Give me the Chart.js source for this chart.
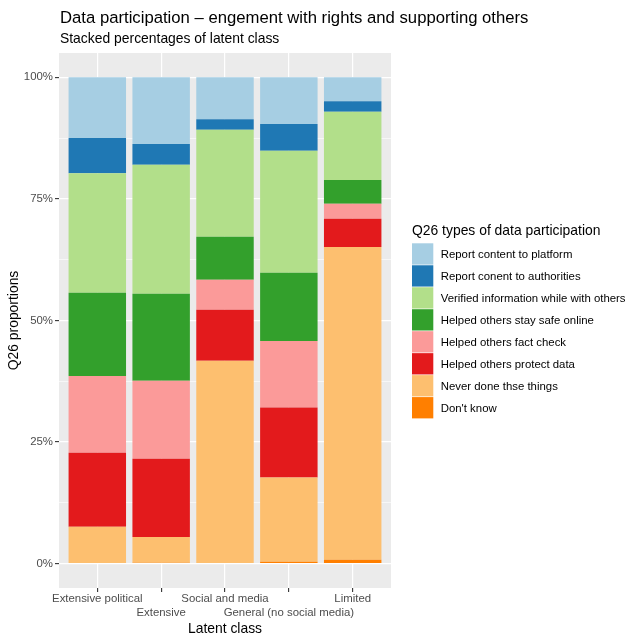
<!DOCTYPE html>
<html>
<head>
<meta charset="utf-8">
<script src="https://cdn.jsdelivr.net/npm/chart.js@4.4.1/dist/chart.umd.min.js"></script>
<style>
  html, body { margin: 0; padding: 0; background: #ffffff; }
  canvas { display: block; }
</style>
</head>
<body>
<canvas id="chart" width="627" height="637"></canvas>
<script>
// Latent classes along the x axis
const classes = ['Extensive political', 'Extensive', 'Social and media', 'General (no social media)', 'Limited'];

// Share of each participation type within a class (%), listed bottom to top of the stack
const dontKnow      = [0.0, 0.2, 0.0, 0.4, 0.8];
const neverDone     = [7.6, 5.3, 41.7, 17.3, 64.3];
const protectData   = [15.2, 16.1, 10.5, 14.4, 5.8];
const factCheck     = [15.8, 16.0, 6.2, 13.7, 3.1];
const staySafe      = [17.1, 17.9, 8.8, 14.0, 4.9];
const verifiedInfo  = [24.6, 26.5, 22.0, 25.1, 14.0];
const toAuthorities = [7.2, 4.3, 2.2, 5.5, 2.2];
const toPlatform    = [12.5, 13.7, 8.6, 9.6, 4.9];

const seriesNames = [
  "Don't know",
  'Never done thse things',
  'Helped others protect data',
  'Helped others fact check',
  'Helped others stay safe online',
  'Verified information while with others',
  'Report conent to authorities',
  'Report content to platform'
];
const seriesValues = [dontKnow, neverDone, protectData, factCheck, staySafe, verifiedInfo, toAuthorities, toPlatform];
const seriesColors = ['#FF7F00', '#FDBF6F', '#E31A1C', '#FB9A99', '#33A02C', '#B2DF8A', '#1F78B4', '#A6CEE3'];

// Labelled y ticks (%)
const yTicks = [0, 25, 50, 75, 100];

const FONT = "'Liberation Sans', Arial, Helvetica, sans-serif";
const GREY_TEXT = '#4D4D4D';

// Major lines at the labelled ticks, minor lines halfway between them
const yGrid = [];
yTicks.forEach((v, i) => {
  yGrid.push(v);
  if (i < yTicks.length - 1) yGrid.push((v + yTicks[i + 1]) / 2);
});
yGrid.sort((a, b) => a - b);

const datasets = seriesNames.map((name, k) => ({
  label: name,
  data: seriesValues[k].map((v, i) => ({ x: i + 1, y: v })),
  backgroundColor: seriesColors[k],
  borderWidth: 0,
  barPercentage: 0.9,
  categoryPercentage: 1.0
}));

// Grey panel behind the plotting area
const panelBackground = {
  id: 'panelBackground',
  beforeDraw(chart) {
    const { ctx, chartArea: a } = chart;
    ctx.save();
    ctx.fillStyle = '#EBEBEB';
    ctx.fillRect(a.left, a.top, a.right - a.left, a.bottom - a.top);
    ctx.restore();
  }
};

// Titles, axis titles and the legend
const annotations = {
  id: 'annotations',
  afterDraw(chart) {
    const { ctx, chartArea: a } = chart;
    ctx.save();
    ctx.fillStyle = '#000000';
    ctx.textAlign = 'left';
    ctx.textBaseline = 'alphabetic';
    ctx.font = `16.7px ${FONT}`;
    ctx.fillText('Data participation \u2013 engement with rights and supporting others', 60, 22.7);
    ctx.font = `13.9px ${FONT}`;
    ctx.fillText('Stacked percentages of latent class', 60, 42.7);

    // x axis title
    ctx.textAlign = 'center';
    ctx.fillText('Latent class', (a.left + a.right) / 2, 632.7);

    // y axis title
    ctx.save();
    ctx.translate(17.5, (a.top + a.bottom) / 2);
    ctx.rotate(-Math.PI / 2);
    ctx.fillText('Q26 proportions', 0, 0);
    ctx.restore();

    // legend
    ctx.textAlign = 'left';
    ctx.fillText('Q26 types of data participation', 412, 235);
    const keyX = 412, keyY = 243.3, step = 21.97, keySize = 21.3;
    ctx.font = `11.4px ${FONT}`;
    const items = chart.data.datasets.slice().reverse();
    items.forEach((ds, i) => {
      const y = keyY + i * step;
      ctx.fillStyle = ds.backgroundColor;
      ctx.fillRect(keyX, y, keySize, keySize);
      ctx.fillStyle = '#000000';
      ctx.fillText(ds.label, 440.7, y + keySize / 2 + 4);
    });
    ctx.restore();
  }
};

new Chart(document.getElementById('chart'), {
  type: 'bar',
  data: { datasets },
  options: {
    responsive: false,
    devicePixelRatio: 1,
    animation: false,
    events: [],
    layout: { padding: { top: 53, right: 236, left: 0, bottom: 0 } },
    plugins: {
      legend: { display: false },
      title: { display: false },
      tooltip: { enabled: false }
    },
    scales: {
      x: {
        type: 'linear',
        min: 0.4,
        max: 5.6,
        offset: false,
        stacked: true,
        afterBuildTicks(scale) {
          scale.ticks = classes.map((c, i) => ({ value: i + 1 }));
        },
        afterFit(scale) { scale.height = 49; },
        border: { display: false },
        grid: {
          offset: false,
          color: '#FFFFFF',
          lineWidth: 1.2,
          tickLength: 4,
          tickColor: '#333333',
          tickWidth: 1.1
        },
        ticks: {
          autoSkip: false,
          maxRotation: 0,
          minRotation: 0,
          padding: 0,
          color: GREY_TEXT,
          font: { family: FONT, size: 11.4, lineHeight: 1.228 },
          callback(value) {
            const i = Math.round(value) - 1;
            const name = classes[i];
            // alternate rows so long names do not collide
            return i % 2 === 1 ? ['', name] : name;
          }
        }
      },
      y: {
        type: 'linear',
        min: -5,
        max: 105,
        stacked: true,
        afterBuildTicks(scale) {
          scale.ticks = yGrid.map(v => ({ value: v }));
        },
        afterFit(scale) { scale.width = 59; },
        border: { display: false },
        grid: {
          color: '#FFFFFF',
          lineWidth: ctx => (ctx.tick && yTicks.includes(ctx.tick.value) ? 1.2 : 0.6),
          tickLength: 4,
          tickColor: ctx => (ctx.tick && yTicks.includes(ctx.tick.value) ? '#333333' : 'rgba(0,0,0,0)'),
          tickWidth: 1.1
        },
        ticks: {
          autoSkip: false,
          padding: 2,
          color: GREY_TEXT,
          font: { family: FONT, size: 11.4 },
          callback(value) {
            return yTicks.includes(value) ? value + '%' : '';
          }
        }
      }
    }
  },
  plugins: [panelBackground, annotations]
});
</script>
</body>
</html>
